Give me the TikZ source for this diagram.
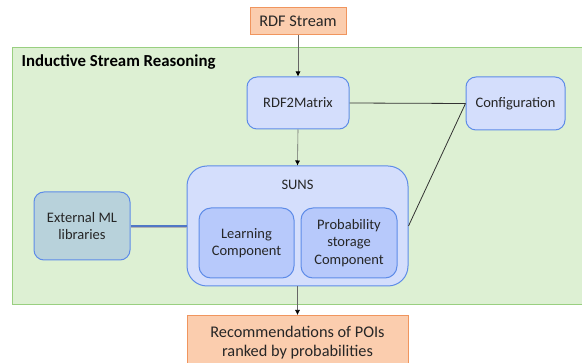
\documentclass[tikz,border=0pt]{standalone}
\usepackage{fontspec}
\setmainfont{Carlito}
\usetikzlibrary{arrows.meta}
\definecolor{orfill}{HTML}{FBCDAE}
\definecolor{ordraw}{HTML}{F0955E}
\definecolor{grfill}{HTML}{DDF0D3}
\definecolor{grdraw}{HTML}{99CF80}
\definecolor{blfill}{HTML}{D4DEFC}
\definecolor{bldraw}{HTML}{5E8CE8}
\definecolor{cmfill}{HTML}{B7C9FB}
\definecolor{exfill}{HTML}{B8D2DB}
\definecolor{txt}{HTML}{262626}
\tikzset{
  orbox/.style={draw=ordraw, fill=orfill, line width=1pt, text=txt, font=\fontsize{16.3}{19.5}\selectfont, align=center, inner sep=0pt},
  blbox/.style={draw=bldraw, fill=blfill, line width=1pt, rounded corners=10pt, text=txt, font=\fontsize{14.5}{17.5}\selectfont, align=center, inner sep=0pt},
  cmbox/.style={blbox, fill=cmfill, rounded corners=12pt},
  flow/.style={draw=gray!80!black, line width=0.6pt, -{Latex[black,length=5pt,width=5pt]}},
  conn/.style={draw=black!80, line width=0.8pt}
}
\begin{document}
\begin{tikzpicture}[x=1pt,y=-1pt]
\useasboundingbox (0,0) rectangle (582,363);
\clip (0,0) rectangle (582,363);
% green container
\node[draw=grdraw, fill=grfill, line width=1.2pt, minimum width=590pt, minimum height=257pt, inner sep=0pt, anchor=north west] (isr) at (12,47) {};
\node[anchor=west, font=\bfseries\fontsize{16.8}{19}\selectfont, text=black] (isrlabel) at (18,62.5) {Inductive Stream Reasoning};
% top source
\node[orbox, minimum width=96pt, minimum height=27pt] (rdf) at (298,21.5) {RDF Stream};
% boxes
\node[blbox, minimum width=102pt, minimum height=52pt] (r2m) at (298,103) {RDF2Matrix};
\node[blbox, minimum width=99pt, minimum height=53pt] (conf) at (515.5,103.5) {Configuration};
\node[blbox, minimum width=221pt, minimum height=120pt, rounded corners=20pt] (suns) at (297.5,226) {};
\node[font=\fontsize{14.5}{17.5}\selectfont, text=txt] (sunslabel) at (297.5,185) {SUNS};
\node[cmbox, minimum width=95pt, minimum height=70pt] (learn) at (246.5,243) {Learning\\Component};
\node[cmbox, minimum width=96pt, minimum height=70pt] (prob) at (349,243) {Probability\\storage\\Component};
\node[blbox, fill=exfill, minimum width=96pt, minimum height=68pt] (ext) at (82,226) {External ML\\libraries};
% output
\node[orbox, minimum width=221pt, minimum height=54pt, anchor=north] (rec) at (297.5,315) {Recommendations of POIs\\ranked by probabilities};
% connectors
\draw[flow] (rdf.south) -- (r2m.north);
\draw[flow] (r2m.south) -- (suns.north);
\draw[flow] (suns.south) -- (rec.north);
\draw[conn] (r2m.east) -- (conf.west);
\draw[conn] (suns.east) -- (conf.west);
\draw[draw=gray!60, line width=1pt] ([yshift=-1.5pt]ext.east) -- ([yshift=-1.5pt]suns.west);
\draw[draw=bldraw!85!black, line width=1.6pt] (ext.east) -- (suns.west);
\end{tikzpicture}
\end{document}
